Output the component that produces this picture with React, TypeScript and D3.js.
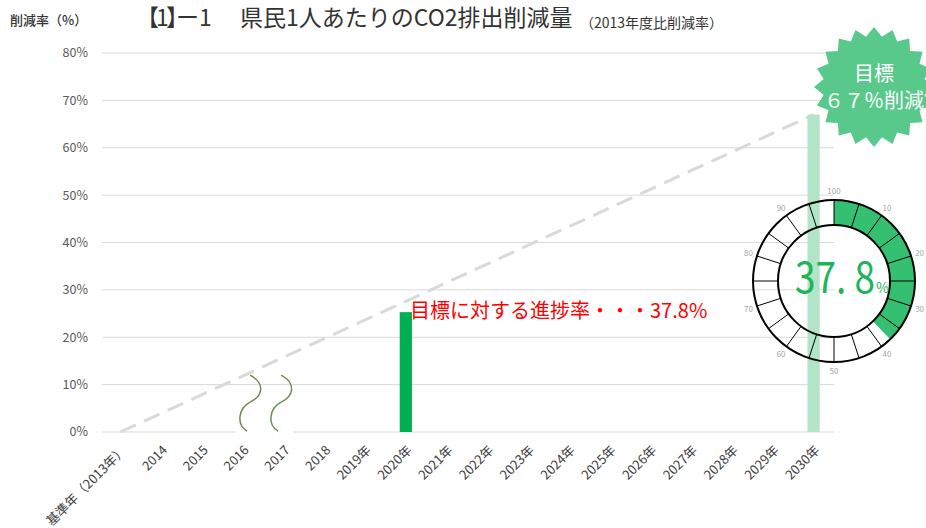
import React from 'react';
import * as d3 from 'd3';

// chart data
const categories = [
  '基準年（2013年）', '2014', '2015', '2016', '2017', '2018',
  '2019年', '2020年', '2021年', '2022年', '2023年', '2024年',
  '2025年', '2026年', '2027年', '2028年', '2029年', '2030年',
];
const actualValues: (number | null)[] = [
  null, null, null, null, null, null, null, 25.3, null, null,
  null, null, null, null, null, null, null, null,
];
const targetValues: (number | null)[] = [
  null, null, null, null, null, null, null, null, null, null,
  null, null, null, null, null, null, null, 67,
];
const pathCategories = ['基準年（2013年）', '2030年'];
const pathValues = [0, 67];
const yTicks = [0, 10, 20, 30, 40, 50, 60, 70, 80];
const progress = 37.8;
const gaugeLabels = [10, 20, 30, 40, 50, 60, 70, 80, 90, 100];
const breakBetween = ['2016', '2017'];

const FONT = "'Noto Sans CJK JP', 'Noto Sans', sans-serif";

const App = () => {
  const width = 926;
  const height = 528;
  const margin = { left: 100, right: 92, top: 53, bottom: 96 };

  const x = d3.scaleBand<string>()
    .domain(categories)
    .range([margin.left, width - margin.right])
    .padding(0);
  const y = d3.scaleLinear().domain([0, 80]).range([height - margin.bottom, margin.top]);
  const cx = (c: string) => (x(c) as number) + x.bandwidth() / 2;
  const barW = x.bandwidth() * 0.3;

  // dashed target path
  const pathLine = d3.line<number>()
    .x((_, i) => cx(pathCategories[i]))
    .y(d => y(d));

  // break marks between 2016 and 2017
  const breakX = (x(breakBetween[1]) as number);
  const wave = (c: number) => {
    const p = d3.path();
    p.moveTo(c, y(12));
    p.bezierCurveTo(c + 16, y(10.2), c + 12, y(7.5), c, y(6.3));
    p.bezierCurveTo(c - 12, y(5), c - 14, y(1.5), c - 3, y(0.2));
    return p.toString();
  };

  // gauge
  const g = { x: 834, y: 281, r0: 56, r1: 81 };
  const arc = d3.arc<any>().innerRadius(g.r0).outerRadius(g.r1);
  const angle = d3.scaleLinear().domain([0, 100]).range([0, 2 * Math.PI]);
  const segs = d3.range(0, 100, 5);

  // starburst
  const star = { x: 874, y: 87, rOut: 60, rIn: 51, n: 20 };
  const starPts: [number, number][] = d3.range(star.n * 2).map(i => [
    (i * Math.PI) / star.n,
    i % 2 === 0 ? star.rOut : star.rIn,
  ]);
  const starPath = d3.lineRadial().curve(d3.curveLinearClosed)(starPts) as string;

  return (
    <svg width={width} height={height} style={{ position: 'absolute', left: 0, top: 0, fontFamily: FONT }}>
      <style>{'body{margin:0}'}</style>
      <rect width={width} height={height} fill="#fff" />

      {/* gridlines */}
      {yTicks.map(t => (
        <g key={t}>
          <line x1={margin.left + 2} x2={width - margin.right} y1={y(t)} y2={y(t)} stroke="#d9d9d9" strokeWidth={1} />
          <text x={88} y={y(t)} dy="0.35em" textAnchor="end" fontSize={12.5} fill="#595959">{t}%</text>
        </g>
      ))}

      {/* axis break gap */}
      <rect x={breakX - 28} y={y(0) - 1.5} width={58} height={3} fill="#fff" />

      {/* target path */}
      <path d={pathLine(pathValues) as string} fill="none" stroke="#d9d9d9" strokeWidth={3} strokeDasharray="17 9" />

      {/* bars */}
      {categories.map((c, i) => targetValues[i] != null && (
        <rect key={'t' + c} x={cx(c) - barW / 2} y={y(targetValues[i] as number)} width={barW}
          height={y(0) - y(targetValues[i] as number)} fill="#b2e5c8" />
      ))}
      {categories.map((c, i) => actualValues[i] != null && (
        <rect key={'a' + c} x={cx(c) - barW / 2} y={y(actualValues[i] as number)} width={barW}
          height={y(0) - y(actualValues[i] as number)} fill="#00b050" />
      ))}

      {/* break marks */}
      <path d={wave(breakX - 13)} fill="none" stroke="#6f8d52" strokeWidth={1.5} />
      <path d={wave(breakX + 18)} fill="none" stroke="#6f8d52" strokeWidth={1.5} />

      {/* x labels */}
      {categories.map(c => (
        <text key={c} transform={`translate(${cx(c) + 7},${y(0) + 19}) rotate(-45)`} textAnchor="end"
          fontSize={13} fill="#404040">{c}</text>
      ))}

      {/* progress annotation */}
      <text x={410} y={318} fontSize={20} fill="#ff0000">目標に対する進捗率・・・{progress}%</text>

      {/* gauge */}
      <g transform={`translate(${g.x},${g.y})`}>
        <path d={arc({ startAngle: 0, endAngle: angle(progress) }) as string} fill="#35bf70" />
        {segs.map(s => {
          const a = angle(s);
          return (
            <line key={s} x1={g.r0 * Math.sin(a)} y1={-g.r0 * Math.cos(a)} x2={g.r1 * Math.sin(a)} y2={-g.r1 * Math.cos(a)}
              stroke="#000" strokeWidth={1} />
          );
        })}
        <circle r={g.r1} fill="none" stroke="#000" strokeWidth={2} />
        <circle r={g.r0} fill="none" stroke="#000" strokeWidth={2} />
        {gaugeLabels.map(v => {
          const a = angle(v);
          return (
            <text key={v} x={90 * Math.sin(a)} y={-90 * Math.cos(a)} dy="0.35em" textAnchor="middle"
              fontSize={8} fill="#a6a6a6">{v}</text>
          );
        })}
        <text x={-39} y={12} fontSize={44} fill="#1fb35b" textLength={80} lengthAdjust="spacingAndGlyphs">37. 8</text>
        <text x={42} y={12} fontSize={14} fill="#1fb35b">%</text>
      </g>

      {/* starburst */}
      <g transform={`translate(${star.x},${star.y})`}>
        <path d={starPath} fill="#58c88b" />
        <text y={-6} textAnchor="middle" fontSize={20} fill="#fff">目標</text>
        <text y={21} textAnchor="middle" fontSize={20} fill="#fff">６７％削減</text>
      </g>

      {/* titles */}
      <text x={10} y={25} fontSize={13} fontWeight={500} fill="#333">削減率（%）</text>
      <text y={26} fontSize={23} fill="#333">
        <tspan x={136}>【</tspan>
        <tspan x={156}>1</tspan>
        <tspan x={166}>】</tspan>
        <tspan x={176}>ー</tspan>
        <tspan x={199}>1</tspan>
      </text>
      <text x={240} y={26} fontSize={23} fill="#333">県民1人あたりのCO2排出削減量</text>
      <text x={580} y={28} fontSize={14} fill="#333">（2013年度比削減率）</text>
    </svg>
  );
};

export default App;
